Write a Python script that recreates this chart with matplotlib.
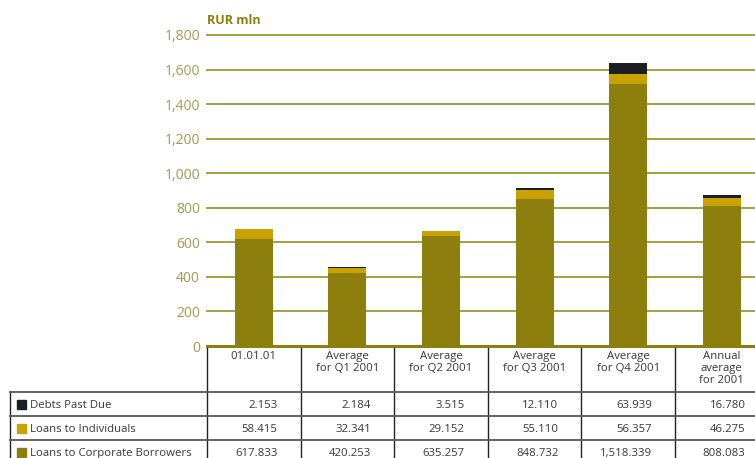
import numpy as np
import matplotlib.pyplot as plt
import matplotlib.transforms as mtransforms
from matplotlib.lines import Line2D
from matplotlib.patches import Rectangle

plt.rcParams['font.family'] = ['Open Sans', 'DejaVu Sans']

# loan portfolio structure, RUR mln
periods = ["01.01.01", "Average\nfor Q1 2001", "Average\nfor Q2 2001",
           "Average\nfor Q3 2001", "Average\nfor Q4 2001", "Annual\naverage\nfor 2001"]
corporate = [617.833, 420.253, 635.257, 848.732, 1518.339, 808.083]
individuals = [58.415, 32.341, 29.152, 55.110, 56.357, 46.275]
past_due = [2.153, 2.184, 3.515, 12.110, 63.939, 16.780]
y_ticks = [0, 200, 400, 600, 800, 1000, 1200, 1400, 1600, 1800]

c_corp = "#8c7f0e"
c_ind = "#c9a100"
c_due = "#1d1e22"
c_grid = "#a09530"
c_tick = "#a39a4f"
c_text = "#383838"

W, H = 755, 458
fig = plt.figure(figsize=(W / 100, H / 100), dpi=100)

def fy(py):
    return 1 - py / H

col_w = 93.6
ax = fig.add_axes([207 / W, fy(346), 6 * col_w / W, (346 - 35) / H])
x = np.arange(len(periods))
bw = 0.406

ax.bar(x, corporate, bw, color=c_corp, zorder=3)
ax.bar(x, individuals, bw, bottom=corporate, color=c_ind, zorder=3)
base = np.array(corporate) + np.array(individuals)
ax.bar(x, past_due, bw, bottom=base, color=c_due, zorder=3)

ax.set_xlim(-0.5, len(periods) - 0.5)
ax.set_ylim(0, 1800)
for t in y_ticks[1:]:
    ax.axhline(t, color=c_grid, lw=1.3, zorder=1, clip_on=False)
ax.axhline(0, color=c_corp, lw=2.2, zorder=4, clip_on=False)
ax.set_yticks(y_ticks)
ax.set_yticklabels([f"{t:,}" for t in y_ticks])
ax.tick_params(axis='y', length=0, pad=5, labelsize=10, labelcolor=c_tick)
ax.set_xticks([])
for s in ax.spines.values():
    s.set_visible(False)

fig.text(207 / W, fy(20), "RUR mln", ha='left', va='center',
         fontsize=9, fontweight='bold', color=c_corp)

# data table under the chart
tr = mtransforms.blended_transform_factory(ax.transData, fig.transFigure)
left_edge = -0.5 - (207 - 10) / col_w
row_lines = [392, 416, 440]
bottom_px = 470
fs = 8.2

for i in range(len(periods) + 1):
    xb = -0.5 + i
    fig.add_artist(Line2D([xb, xb], [fy(348), fy(bottom_px)], transform=tr,
                          color="#222222", lw=1.0))
fig.add_artist(Line2D([left_edge, left_edge], [fy(392), fy(bottom_px)],
                      transform=tr, color="#222222", lw=1.0))
for py in row_lines:
    fig.add_artist(Line2D([left_edge, len(periods) - 0.5], [fy(py), fy(py)],
                          transform=tr, color="#555555", lw=1.3))

for i, p in enumerate(periods):
    fig.text(i, fy(351), p, transform=tr, ha='center', va='top',
             fontsize=fs, color=c_text, linespacing=1.1)

series = [("Debts Past Due", past_due, c_due),
          ("Loans to Individuals", individuals, c_ind),
          ("Loans to Corporate Borrowers", corporate, c_corp)]
row_centers = [404, 428, 452]
for (name, vals, col), py in zip(series, row_centers):
    fig.add_artist(Rectangle((17 / W, fy(py + 4.5)), 9 / W, 9 / H,
                             transform=fig.transFigure, color=col))
    fig.text(30 / W, fy(py), name, ha='left', va='center_baseline',
             fontsize=fs, color=c_text)
    for i, v in enumerate(vals):
        fig.text(i + 0.5 - 23 / col_w, fy(py), f"{v:,.3f}", transform=tr,
                 ha='right', va='center_baseline', fontsize=fs, color=c_text)

fig.savefig("out.png", dpi=100)
